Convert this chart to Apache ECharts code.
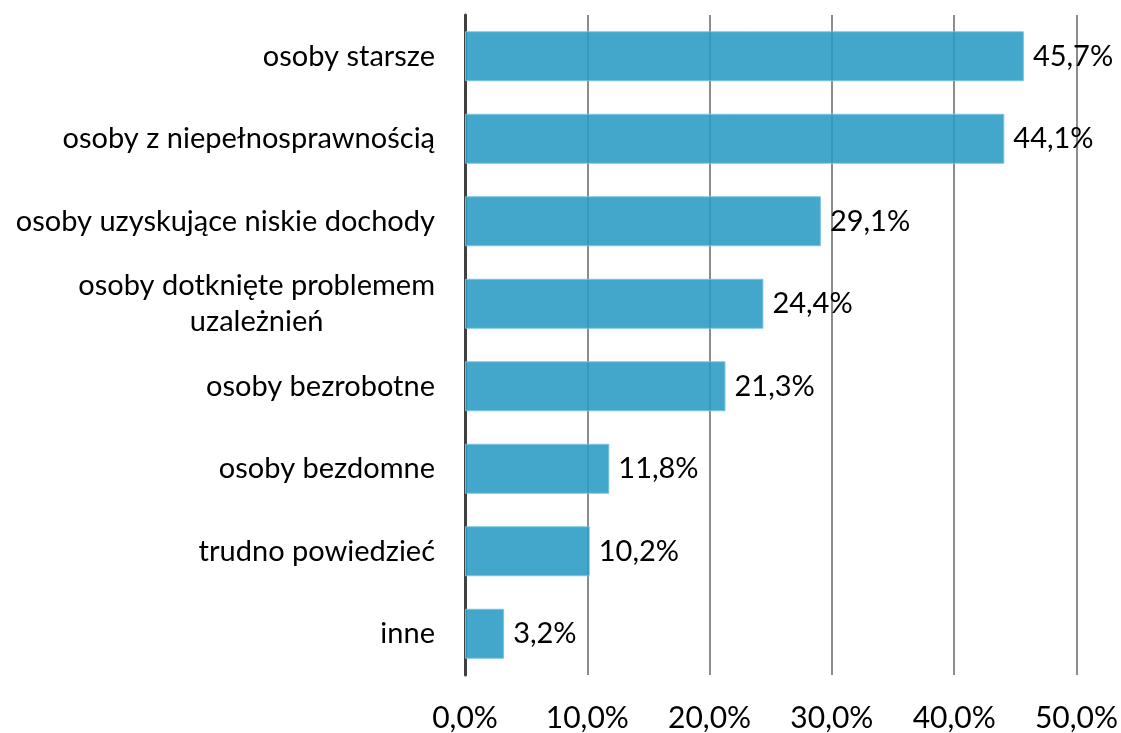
<!DOCTYPE html>
<html>
<head>
<meta charset="utf-8">
<script src="https://cdn.jsdelivr.net/npm/echarts@6/dist/echarts.min.js"></script>
<style>
  html, body { margin: 0; padding: 0; background: #fff; }
  #chart { width: 1121px; height: 733px; }
</style>
</head>
<body>
<div id="chart"></div>
<script>
const categories = [
  "osoby starsze",
  "osoby z niepełnosprawnością",
  "osoby uzyskujące niskie dochody",
  "osoby dotknięte problemem\nuzależnień",
  "osoby bezrobotne",
  "osoby bezdomne",
  "trudno powiedzieć",
  "inne"
];
const values = [45.7, 44.1, 29.1, 24.4, 21.3, 11.8, 10.2, 3.2];

const FONT = 29;
const fmt = (v) => v.toFixed(1).replace(".", ",") + "%";

// width of first line of the wrapped label, used to centre the second line
const ctx = document.createElement("canvas").getContext("2d");
ctx.font = FONT + "px Lato";
const firstLineW = ctx.measureText("osoby dotknięte problemem").width;

const chart = echarts.init(document.getElementById("chart"));

const option = {
  textStyle: { fontFamily: "Lato" },
  grid: { left: 465, right: 43, top: 15, bottom: 55 },
  xAxis: {
    type: "value",
    min: 0,
    max: 50,
    interval: 10,
    axisLine: { show: false },
    axisTick: { show: false },
    splitLine: { lineStyle: { color: "#8c8c8c", width: 2 } },
    axisLabel: {
      margin: 28,
      fontSize: 30,
      color: "#000",
      formatter: fmt
    }
  },
  yAxis: {
    type: "category",
    inverse: true,
    data: categories.map((c) =>
      c.indexOf("\n") >= 0
        ? { value: c, textStyle: { align: "center", padding: [0, firstLineW, 0, 0] } }
        : c
    ),
    axisTick: { show: false },
    axisLine: { lineStyle: { color: "#404040", width: 3 } },
    axisLabel: {
      margin: 30,
      fontSize: FONT,
      color: "#000",
      lineHeight: 36
    }
  },
  series: [
    {
      type: "bar",
      data: values,
      barWidth: 50,
      itemStyle: {
        color: "rgba(40,155,195,0.88)",
        borderColor: "rgba(120,195,225,0.9)",
        borderWidth: 1
      },
      label: {
        show: true,
        position: "right",
        distance: 9,
        fontSize: FONT,
        color: "#000",
        formatter: (p) => fmt(p.value)
      }
    }
  ]
};

chart.setOption(option);
</script>
</body>
</html>
